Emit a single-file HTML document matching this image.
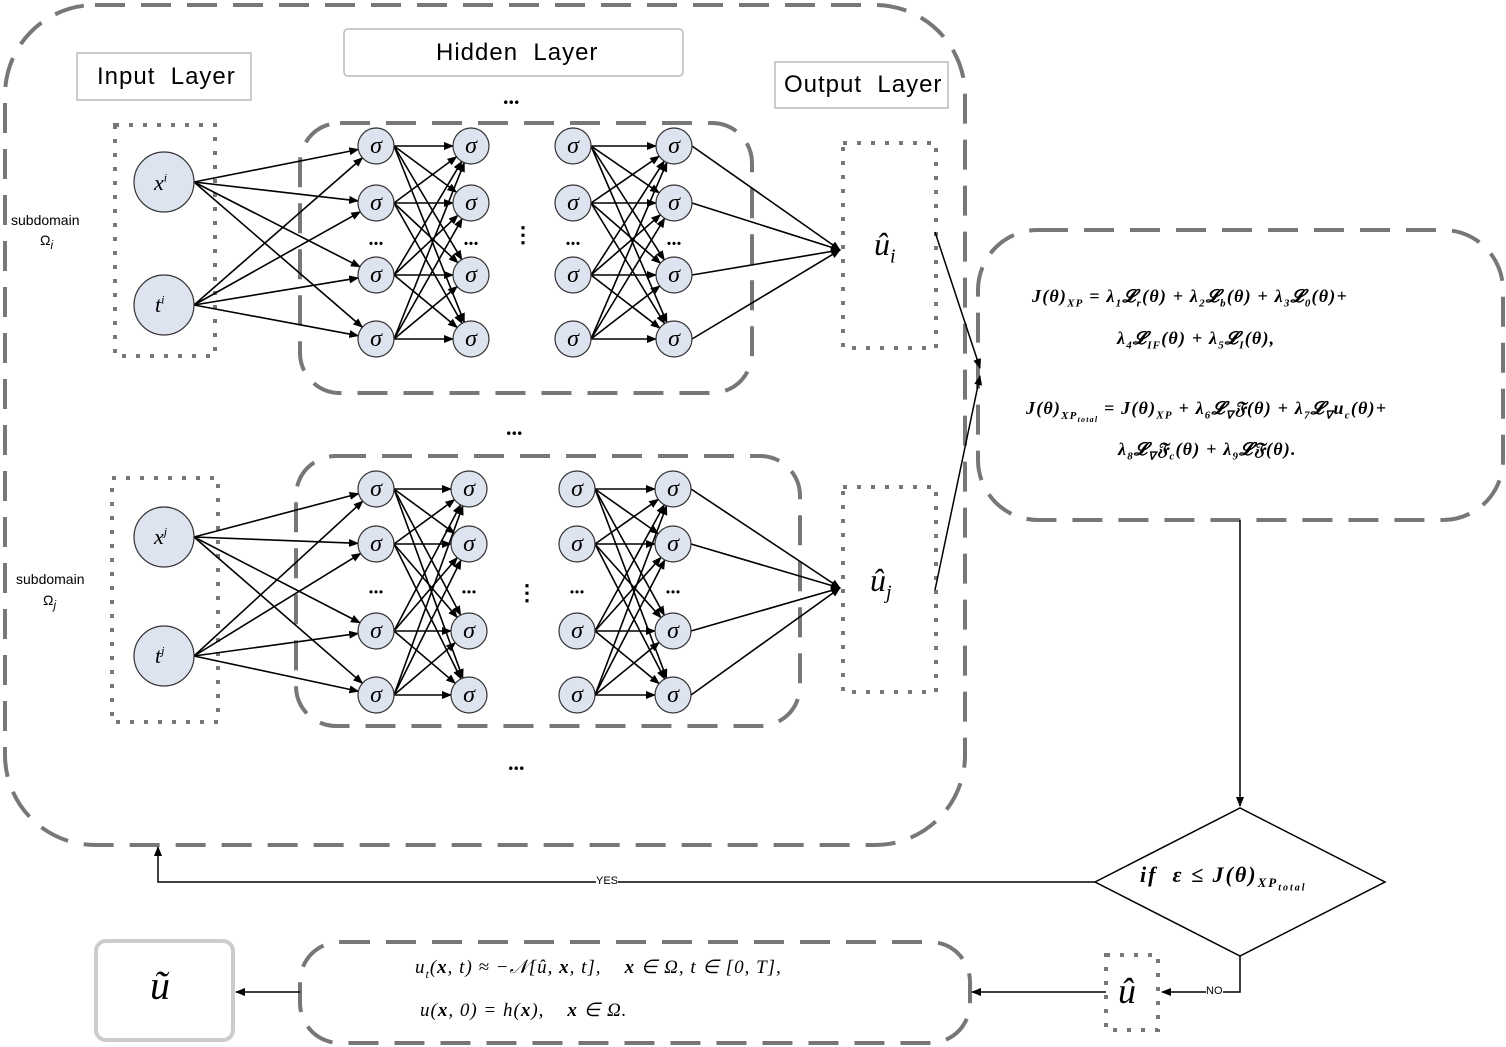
<!DOCTYPE html>
<html><head><meta charset="utf-8"><style>
body{margin:0;background:#fff;width:1506px;height:1047px;overflow:hidden;position:relative;font-family:"Liberation Serif",serif}
svg{position:absolute;left:0;top:0}
.t{position:absolute;white-space:nowrap}
.lab{font-family:"Liberation Sans",sans-serif;font-size:24px;letter-spacing:1px}
.m{font-family:"Liberation Serif",serif;font-style:italic;font-size:18px;font-weight:bold;letter-spacing:1.2px}
.s{font-family:"Liberation Sans",sans-serif;font-size:14px}
</style></head><body>
<svg id="sv" width="1506" height="1047" xmlns="http://www.w3.org/2000/svg">
<defs><marker id="a" markerWidth="10" markerHeight="8" refX="9" refY="4" orient="auto" markerUnits="userSpaceOnUse"><path d="M0,0L10,4L0,8z" fill="#000"/></marker></defs>
<g fill="none" stroke="#777" stroke-width="4" stroke-dasharray="30 16">
<rect x="5" y="5" width="960" height="840" rx="90"/>
<rect x="300" y="123" width="452" height="270" rx="40"/>
<rect x="296" y="456" width="504" height="270" rx="40"/>
<rect x="978" y="230" width="525" height="290" rx="60"/>
<rect x="300" y="942" width="670" height="101" rx="40"/>
</g>
<g fill="none" stroke="#777" stroke-width="4" stroke-dasharray="4 10">
<rect x="115" y="125" width="100" height="231"/>
<rect x="112" y="478" width="106" height="244"/>
<rect x="843" y="143" width="93" height="205"/>
<rect x="843" y="487" width="93" height="205"/>
<rect x="1106" y="955" width="52" height="75"/>
</g>
<g fill="#fff" stroke="#bbb" stroke-width="1.5">
<rect x="77" y="53" width="174" height="47"/>
<rect x="344" y="29" width="339" height="47" rx="4"/>
<rect x="775" y="62" width="173" height="46"/>
</g>
<rect x="96" y="941" width="137" height="99" rx="10" fill="none" stroke="#ccc" stroke-width="4"/>
<g id="edges" stroke="#000" stroke-width="1.6" fill="none"></g>
<g stroke="#000" stroke-width="1.5" fill="none">
<line x1="935" y1="232" x2="980" y2="368" marker-end="url(#a)"/>
<line x1="935" y1="590" x2="980" y2="376" marker-end="url(#a)"/>
<line x1="1240" y1="520" x2="1240" y2="806" marker-end="url(#a)"/>
<polygon points="1095,882 1240,808 1385,882 1240,956" fill="#fff"/>
<polyline points="1095,882 158,882 158,847" marker-end="url(#a)"/>
<polyline points="1240,956 1240,992 1162,992" marker-end="url(#a)"/>
<line x1="1106" y1="992" x2="972" y2="992" marker-end="url(#a)"/>
<line x1="300" y1="992" x2="236" y2="992" marker-end="url(#a)"/>
</g>
<g id="nodes"></g>
</svg>
<div class="t lab" style="left:97px;top:63px">Input&nbsp; Layer</div>
<div class="t lab" style="left:436px;top:39px">Hidden&nbsp; Layer</div>
<div class="t lab" style="left:784px;top:71px">Output&nbsp; Layer</div>
<div class="t s" style="left:11px;top:212px">subdomain</div><div class="t s" style="left:40px;top:232px">Ω<sub><i>i</i></sub></div>
<div class="t s" style="left:16px;top:571px">subdomain</div><div class="t s" style="left:43px;top:592px">Ω<sub><i>j</i></sub></div>
<div class="t" style="left:154px;top:170px;font-size:22px;font-style:italic">x<sup style="font-size:12px">i</sup></div>
<div class="t" style="left:155px;top:292px;font-size:22px;font-style:italic">t<sup style="font-size:12px">i</sup></div>
<div class="t" style="left:154px;top:524px;font-size:22px;font-style:italic">x<sup style="font-size:12px">j</sup></div>
<div class="t" style="left:155px;top:643px;font-size:22px;font-style:italic">t<sup style="font-size:12px">j</sup></div>
<div class="t" style="left:874px;top:226px;font-size:32px;font-style:italic">û<sub style="font-size:20px">i</sub></div>
<div class="t" style="left:870px;top:562px;font-size:32px;font-style:italic">û<sub style="font-size:20px">j</sub></div>
<div class="t" style="left:1118px;top:970px;font-size:36px;font-style:italic">û</div>
<div class="t" style="left:150px;top:962px;font-size:40px;font-style:italic">ũ</div>
<div class="t" style="left:503px;top:84px;font-size:22px;font-weight:bold">...</div>
<div class="t" style="left:506px;top:415px;font-size:22px;font-weight:bold">...</div>
<div class="t" style="left:508px;top:750px;font-size:22px;font-weight:bold">...</div>
<div class="t" style="left:512px;top:222px;font-size:22px;font-weight:bold">⋮</div>
<div class="t" style="left:516px;top:580px;font-size:22px;font-weight:bold">⋮</div>
<div class="t m" style="left:1032px;top:286px">J(θ)<sub style="font-size:11px">XP</sub> = λ<sub style="font-size:11px">1</sub>𝓛<sub style="font-size:11px">r</sub>(θ) + λ<sub style="font-size:11px">2</sub>𝓛<sub style="font-size:11px">b</sub>(θ) + λ<sub style="font-size:11px">3</sub>𝓛<sub style="font-size:11px">0</sub>(θ)+</div>
<div class="t m" style="left:1117px;top:328px">λ<sub style="font-size:11px">4</sub>𝓛<sub style="font-size:11px">IF</sub>(θ) + λ<sub style="font-size:11px">5</sub>𝓛<sub style="font-size:11px">I</sub>(θ),</div>
<div class="t m" style="left:1026px;top:398px">J(θ)<sub style="font-size:11px">XP<sub style="font-size:8px">total</sub></sub> = J(θ)<sub style="font-size:11px">XP</sub> + λ<sub style="font-size:11px">6</sub>𝓛<sub style="font-size:11px">∇</sub>𝔉(θ) + λ<sub style="font-size:11px">7</sub>𝓛<sub style="font-size:11px">∇</sub>u<sub style="font-size:11px">c</sub>(θ)+</div>
<div class="t m" style="left:1118px;top:439px">λ<sub style="font-size:11px">8</sub>𝓛<sub style="font-size:11px">∇</sub>𝔉<sub style="font-size:11px">c</sub>(θ) + λ<sub style="font-size:11px">9</sub>𝓛𝔉(θ).</div>
<div class="t m" style="left:1140px;top:862px;font-size:22px;letter-spacing:2px">if&nbsp; ε ≤ J(θ)<sub style="font-size:13px">XP<sub style="font-size:10px">total</sub></sub></div>
<div class="t" style="left:596px;top:875px;font-size:11px;font-family:'Liberation Sans',sans-serif;background:#fff">YES</div>
<div class="t" style="left:1206px;top:985px;font-size:11px;font-family:'Liberation Sans',sans-serif;background:#fff">NO</div>
<div class="t" style="left:415px;top:956px;font-size:19px;font-style:italic;letter-spacing:1px">u<sub style="font-size:12px">t</sub>(<b>x</b>, t) ≈ −𝒩[û, <b>x</b>, t],&nbsp;&nbsp;&nbsp; <b>x</b> ∈ Ω, t ∈ [0, T],</div>
<div class="t" style="left:420px;top:999px;font-size:19px;font-style:italic;letter-spacing:1px">u(<b>x</b>, 0) = h(<b>x</b>),&nbsp;&nbsp;&nbsp; <b>x</b> ∈ Ω.</div>
<script>
var NS="http://www.w3.org/2000/svg",E=document.getElementById("edges"),N=document.getElementById("nodes");
function ln(a,b,c,d,r){var dx=c-a,dy=d-b,L=Math.hypot(dx,dy);var l=document.createElementNS(NS,"line");l.setAttribute("x1",a);l.setAttribute("y1",b);l.setAttribute("x2",c-dx/L*r);l.setAttribute("y2",d-dy/L*r);l.setAttribute("marker-end","url(#a)");E.appendChild(l);}
function nd(x,y,r,s){var c=document.createElementNS(NS,"circle");c.setAttribute("cx",x);c.setAttribute("cy",y);c.setAttribute("r",r);c.setAttribute("fill","#dde3ef");c.setAttribute("stroke","#333");c.setAttribute("stroke-width","1.2");N.appendChild(c);if(s){var t=document.createElementNS(NS,"text");t.setAttribute("x",x);t.setAttribute("y",y+7);t.setAttribute("text-anchor","middle");t.setAttribute("font-size","24");t.setAttribute("font-style","italic");t.setAttribute("font-family","Liberation Serif");t.textContent=s;N.appendChild(t);}}
function net(inp,rows,cols,out){
 var R=18;
 inp.forEach(function(p){rows.forEach(function(y){ln(p[0]+30,p[1],cols[0],y,R);});});
 [[0,1],[2,3]].forEach(function(q){rows.forEach(function(y1){rows.forEach(function(y2){ln(cols[q[0]]+R,y1,cols[q[1]],y2,R);});});});
 rows.forEach(function(y){ln(cols[3]+R,y,out[0],out[1],0);});
 inp.forEach(function(p){nd(p[0],p[1],30);});
 cols.forEach(function(x){rows.forEach(function(y){nd(x,y,R,"σ");});});
 cols.forEach(function(x){var t=document.createElementNS(NS,"text");t.setAttribute("x",x);t.setAttribute("y",(rows[1]+rows[2])/2+6);t.setAttribute("text-anchor","middle");t.setAttribute("font-size","20");t.setAttribute("font-weight","bold");t.textContent="...";N.appendChild(t);});
}
net([[164,182],[164,305]],[146,203,275,339],[376,471,573,674],[840,250]);
net([[164,537],[164,656]],[489,544,631,695],[376,469,577,673],[840,588]);
</script>
</body></html>
